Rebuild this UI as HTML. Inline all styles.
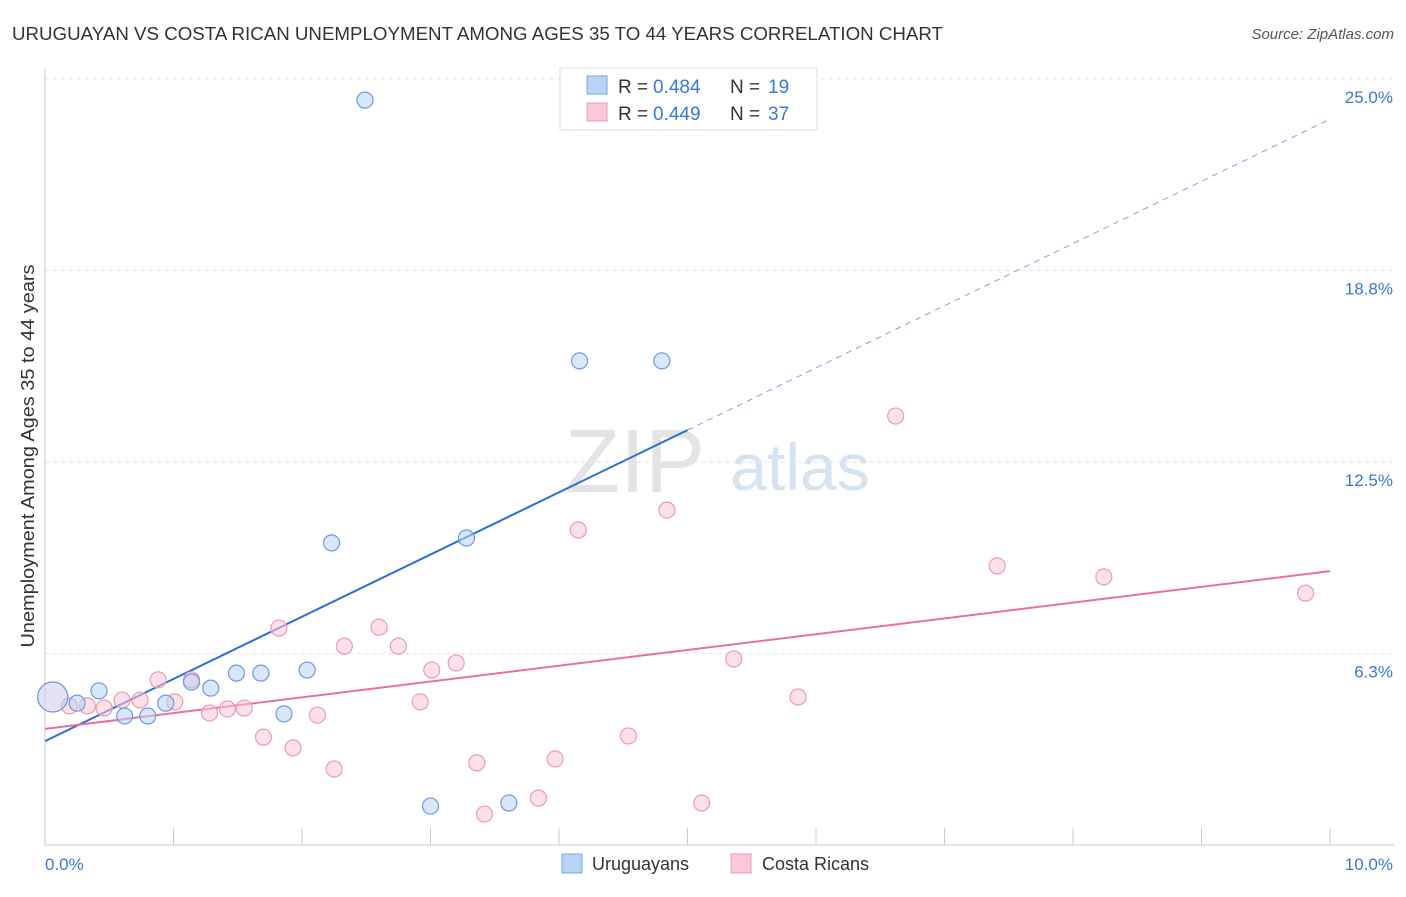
<!DOCTYPE html>
<html><head><meta charset="utf-8"><style>
body{margin:0;background:#fff;font-family:"Liberation Sans",sans-serif;}
svg text{font-family:"Liberation Sans",sans-serif;}
</style></head><body>
<svg id="chart" width="1406" height="892">
<text x="12" y="40" font-size="18" fill="#333" textLength="931" lengthAdjust="spacingAndGlyphs">URUGUAYAN VS COSTA RICAN UNEMPLOYMENT AMONG AGES 35 TO 44 YEARS CORRELATION CHART</text>
<text x="1394" y="39" font-size="15" fill="#555" text-anchor="end" font-style="italic">Source: ZipAtlas.com</text>
<text x="34" y="456" font-size="18" fill="#333" text-anchor="middle" textLength="383" lengthAdjust="spacingAndGlyphs" transform="rotate(-90 34 456)">Unemployment Among Ages 35 to 44 years</text>
<text x="635" y="492" font-size="90" fill="#e4e4e4" text-anchor="middle" font-family="Liberation Serif">ZIP</text>
<text x="800" y="490" font-size="66" fill="#d6e3f3" text-anchor="middle">atlas</text>
<g id="grid"></g><g id="lines"></g><g id="pts"></g>
<g>
<rect x="560" y="68" width="257" height="62" fill="#fff" stroke="#ddd"/>
<rect x="587" y="76" width="20" height="18" fill="#b8d3f5" stroke="#7aa6e0"/>
<rect x="587" y="103" width="20" height="18" fill="#fcc8d6" stroke="#ee9ab2"/>
<text x="618" y="93" font-size="19" fill="#333">R =</text><text x="653" y="93" font-size="19" fill="#3a78d6">0.484</text>
<text x="730" y="93" font-size="19" fill="#333">N =</text><text x="768" y="93" font-size="19" fill="#3a78d6">19</text>
<text x="618" y="120" font-size="19" fill="#333">R =</text><text x="653" y="120" font-size="19" fill="#3a78d6">0.449</text>
<text x="730" y="120" font-size="19" fill="#333">N =</text><text x="768" y="120" font-size="19" fill="#3a78d6">37</text>
</g>
<g>
<rect x="562" y="854" width="20" height="19" fill="#b8d3f5" stroke="#7aa6e0"/>
<text x="592" y="870" font-size="18" fill="#333">Uruguayans</text>
<rect x="731" y="854" width="20" height="19" fill="#fcc8d6" stroke="#ee9ab2"/>
<text x="762" y="870" font-size="18" fill="#333">Costa Ricans</text>
</g>
</svg>
<script>
const yTicks=[25,18.75,12.5,6.25];
const yTickLabels=["25.0%","18.8%","12.5%","6.3%"];
const xTicks=[0,1,2,3,4,5,6,7,8,9,10];
const blueX=[0.06,0.25,0.42,0.62,0.80,0.94,1.14,1.29,1.49,1.68,1.86,2.04,2.23,2.49,3.28,3.00,3.61,4.16,4.80];
const blueY=[4.83,4.63,5.03,4.21,4.21,4.63,5.32,5.12,5.61,5.61,4.28,5.71,9.86,24.31,10.02,1.27,1.37,15.80,15.80];
const pinkX=[0.06,0.19,0.33,0.46,0.60,0.74,0.88,1.01,1.14,1.28,1.42,1.55,1.70,1.82,1.93,2.12,2.25,2.33,2.60,2.75,2.92,3.01,3.20,3.36,3.42,3.84,3.97,4.15,4.54,4.84,5.11,5.36,5.86,6.62,7.41,8.24,9.81];
const pinkY=[4.83,4.54,4.54,4.47,4.73,4.73,5.39,4.67,5.39,4.31,4.44,4.47,3.52,7.08,3.17,4.24,2.48,6.49,7.11,6.49,4.67,5.71,5.94,2.68,1.01,1.53,2.81,10.28,3.56,10.93,1.37,6.07,4.83,14.00,9.11,8.75,8.22];
const blueTrend=[3.39,2.03];
const pinkTrend=[3.79,0.515];
const NS="http://www.w3.org/2000/svg";
const X=v=>45+v*128.5, Y=v=>845-v*30.64;
function mk(t,a,p){const e=document.createElementNS(NS,t);for(const k in a)e.setAttribute(k,a[k]);p.appendChild(e);return e;}
const grid=document.getElementById('grid'),lines=document.getElementById('lines'),pts=document.getElementById('pts');
yTicks.forEach((t,i)=>{
 const l=mk('line',{x1:45,x2:1394,y1:Y(t),y2:Y(t),stroke:'#e2e2e2','stroke-dasharray':'4,4'},grid);
 
 
 const tx=mk('text',{x:1393,y:Y(t)+24,'font-size':17,fill:'#3a78d6','text-anchor':'end'},grid);
 tx.textContent=yTickLabels[i];
 
 
});
mk('line',{x1:45,x2:45,y1:68,y2:845,stroke:'#ccc'},grid);
mk('line',{x1:45,x2:1394,y1:845,y2:845,stroke:'#ccc'},grid);
xTicks.forEach(t=>{const l=mk('line',{x1:X(t),x2:X(t),y1:828,y2:845,stroke:'#ccc'},grid);
 
 });
[["0.0%",45,'start'],["10.0%",1393,'end']].forEach(d=>{const t=mk('text',{x:d[1],y:870,'font-size':17,fill:'#3a78d6','text-anchor':d[2]},grid);t.textContent=d[0];
 
 });
const bSolidEnd=5;
let l1=mk('line',{x1:X(0),y1:Y(blueTrend[0]),x2:X(bSolidEnd),y2:Y(blueTrend[0]+blueTrend[1]*bSolidEnd),stroke:'#2a6fd6','stroke-width':2},lines);


let l2=mk('line',{x1:X(bSolidEnd),y1:Y(blueTrend[0]+blueTrend[1]*bSolidEnd),x2:X(10),y2:Y(blueTrend[0]+blueTrend[1]*10),stroke:'#7aa6e0','stroke-width':1,'stroke-dasharray':'6,5'},lines);


let l3=mk('line',{x1:X(0),y1:Y(pinkTrend[0]),x2:X(10),y2:Y(pinkTrend[0]+pinkTrend[1]*10),stroke:'#e8709a','stroke-width':2},lines);


function dots(xs,ys,fill,stroke,name){xs.forEach((x,i)=>{const c=mk('circle',{cx:X(x),cy:Y(ys[i]),r:i===0?15:8,fill:fill,stroke:stroke,'stroke-width':1.2,'fill-opacity':i===0?0.35:0.55},pts);
 
 });}
dots(pinkX,pinkY,'#fcc8d6','#ee9ab2','costa-rican-point');
dots(blueX,blueY,'#b8d3f5','#6c9ce0','uruguayan-point');
</script>
</body></html>
